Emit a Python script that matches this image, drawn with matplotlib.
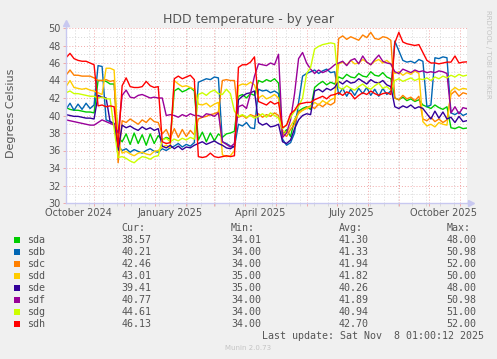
# plot.py
# Munin style "HDD temperature - by year" chart

# ----------------------------------------------------------------------------------------------------------------------
#  IMPORT
# ----------------------------------------------------------------------------------------------------------------------
import matplotlib
matplotlib.use('Agg')
import matplotlib.pyplot as plt
import matplotlib.dates as mdates
from matplotlib.ticker import MultipleLocator, FixedLocator, NullFormatter
from matplotlib.patches import Rectangle
import numpy as np

# ----------------------------------------------------------------------------------------------------------------------
#  DATA
# ----------------------------------------------------------------------------------------------------------------------
start_date = np.datetime64('2024-10-04')
end_date   = np.datetime64('2025-11-08')
sample_day = np.arange(0, 401, 4)          # one reading every 4 days

disk_names  = ['sda', 'sdb', 'sdc', 'sdd', 'sde', 'sdf', 'sdg', 'sdh']
disk_colors = ['#00CC00', '#0066B3', '#FF8000', '#FFCC00', '#330099', '#990099', '#CCFF00', '#FF0000']

sda = [40.9, 40.7, 40.6, 40.6, 40.5, 40.4, 40.4, 40.3, 44.0, 44.0,
       43.9, 43.6, 43.6, 37.5, 37.0, 37.9, 36.7, 38.0, 36.8, 37.8,
       36.6, 37.9, 36.8, 37.7, 37.2, 37.5, 37.3, 42.8, 43.1, 42.7,
       42.9, 43.2, 42.8, 37.2, 38.1, 37.0, 38.0, 37.1, 37.9, 37.5,
       37.9, 38.0, 38.2, 42.2, 42.4, 42.0, 42.5, 42.3, 44.0, 43.8,
       44.1, 43.9, 44.2, 43.7, 37.8, 38.4, 37.6, 39.5, 40.5, 40.8,
       41.0, 40.7, 43.2, 43.6, 43.9, 43.5, 43.8, 43.6, 44.4, 44.2,
       44.7, 44.4, 44.3, 44.8, 44.5, 44.4, 45.0, 44.6, 44.5, 44.9,
       44.4, 44.2, 42.0, 41.8, 42.1, 41.7, 41.9, 41.6, 41.8, 41.2,
       41.0, 40.8, 41.2, 40.9, 40.7, 41.0, 38.6, 38.5, 38.7, 38.5, 38.57]

sdb = [40.7, 41.4, 40.6, 41.3, 40.7, 41.4, 40.8, 41.2, 45.7, 45.6,
       39.5, 39.3, 39.0, 36.5, 36.0, 36.2, 35.8, 36.1, 35.9, 35.7,
       36.0, 36.2, 35.9, 35.8, 36.2, 36.0, 36.3, 36.5, 36.8, 36.4,
       36.7, 36.5, 36.9, 43.8, 44.0, 44.2, 44.1, 44.4, 44.3, 37.0,
       36.8, 36.5, 36.4, 39.0, 38.8, 39.2, 38.6, 38.5, 43.0, 42.8,
       42.9, 42.6, 42.8, 42.5, 37.3, 36.6, 36.9, 38.0, 41.5, 44.5,
       44.8, 45.0, 45.2, 44.8, 45.1, 45.3, 44.9, 45.0, 42.4, 43.1,
       42.2, 43.0, 42.3, 43.1, 42.5, 43.2, 42.3, 43.0, 42.2, 43.1,
       42.4, 42.8, 48.5, 47.4, 46.3, 46.1, 46.2, 46.0, 46.4, 46.2,
       41.0, 41.2, 46.6, 46.5, 46.7, 46.6, 40.3, 40.1, 40.4, 40.0, 40.21]

sdc = [44.6, 45.2, 44.6, 44.6, 44.5, 44.5, 44.5, 44.3, 44.0, 44.0,
       44.1, 43.9, 44.0, 34.6, 39.4, 39.2, 39.6, 39.3, 39.0, 39.5,
       39.2, 39.7, 39.3, 39.2, 37.9, 38.4, 37.4, 38.5, 37.5, 38.4,
       37.6, 38.3, 37.8, 39.6, 39.8, 39.9, 40.1, 40.2, 40.4, 44.0,
       44.1, 44.0, 44.0, 39.8, 40.0, 39.7, 40.1, 39.9, 40.2, 39.8,
       40.1, 39.9, 40.3, 40.0, 38.0, 37.6, 38.4, 39.0, 40.4, 40.6,
       40.9, 41.1, 40.8, 41.3, 41.0, 41.4, 41.2, 41.5, 48.8, 49.1,
       48.7, 49.0, 48.8, 48.6, 49.2, 48.9, 49.5, 48.8, 48.7, 49.0,
       48.9, 48.6, 42.0, 41.8, 42.3, 41.9, 42.1, 41.7, 42.2, 39.6,
       39.4, 39.8, 39.3, 39.6, 39.2, 39.5, 42.4, 42.8, 42.2, 42.6, 42.46]

sdd = [43.3, 44.0, 43.2, 43.1, 43.0, 43.1, 42.9, 42.8, 42.6, 42.4,
       45.4, 45.4, 45.2, 37.0, 35.7, 35.9, 35.6, 35.4, 35.7, 35.8,
       35.6, 35.5, 35.9, 36.0, 36.4, 36.6, 36.3, 44.0, 43.6, 43.3,
       43.4, 43.2, 43.0, 41.3, 41.2, 41.4, 41.0, 41.3, 41.5, 35.5,
       35.3, 35.4, 36.0, 43.4, 43.6, 43.5, 43.8, 43.5, 42.0, 42.3,
       41.9, 42.1, 42.4, 42.0, 38.3, 38.0, 38.8, 39.5, 40.2, 40.6,
       40.8, 41.0, 41.5, 41.2, 41.7, 41.4, 41.8, 42.0, 45.9, 46.1,
       45.8, 46.3, 45.9, 46.0, 46.4, 46.1, 45.8, 46.2, 46.4, 46.0,
       46.3, 45.9, 44.8, 45.0, 44.6, 44.9, 44.7, 45.1, 44.8, 39.3,
       38.8, 39.0, 38.7, 39.2, 39.0, 38.9, 42.8, 43.2, 42.9, 43.1, 43.01]

sde = [40.1, 40.0, 39.9, 39.9, 39.8, 39.7, 39.7, 39.6, 42.3, 42.1,
       42.0, 39.3, 39.1, 36.0, 38.9, 38.6, 38.8, 38.5, 38.3, 38.7,
       38.4, 38.6, 38.3, 38.5, 36.5, 36.3, 36.6, 36.2, 36.5, 36.1,
       36.4, 36.3, 36.6, 36.8, 37.0, 36.7, 36.9, 37.1, 36.8, 36.6,
       36.3, 36.2, 36.5, 41.8, 42.2, 42.5, 42.6, 42.8, 39.2, 38.9,
       39.1, 38.7, 38.8, 39.0, 37.0, 36.8, 37.2, 38.5, 39.5, 40.0,
       40.2, 40.1, 42.8, 43.0, 42.7, 43.1, 42.9, 43.2, 43.9, 43.6,
       44.0, 43.7, 43.8, 44.2, 43.9, 43.6, 44.1, 43.8, 43.7, 44.0,
       43.5, 43.3, 41.0, 40.8, 41.1, 40.9, 41.2, 40.8, 41.0, 40.8,
       40.2, 39.6, 40.5, 39.7, 40.4, 39.6, 39.8, 39.2, 39.9, 39.3, 39.41]

sdf = [39.5, 39.4, 39.3, 39.2, 39.1, 39.0, 38.9, 38.9, 39.2, 39.5,
       39.3, 39.1, 38.9, 38.0, 42.3, 42.9, 42.1, 42.0, 42.3, 42.4,
       42.2, 42.0, 42.1, 42.0, 42.0, 40.0, 40.1, 40.0, 39.8, 40.1,
       39.9, 40.2, 40.0, 40.0, 39.8, 40.2, 40.1, 39.9, 40.3, 37.0,
       36.7, 36.4, 36.8, 41.0, 41.2, 40.8, 42.5, 44.5, 45.9, 45.8,
       45.7, 46.0, 45.8, 47.0, 37.5, 38.0, 39.5, 42.5, 46.5, 47.2,
       46.0, 45.3, 44.8, 45.2, 44.9, 45.1, 45.4, 45.8, 46.0, 46.2,
       45.7, 46.3, 46.5, 45.9, 46.8, 46.1, 45.8, 46.4, 46.9, 46.2,
       46.0, 45.9, 45.0, 44.8, 45.3, 45.1, 44.9, 45.2, 45.0, 45.1,
       44.9, 45.0, 44.9, 45.1, 45.0, 44.8, 40.3, 41.0, 40.2, 40.9, 40.77]

sdg = [42.6, 42.8, 42.5, 42.5, 42.4, 42.3, 42.2, 42.2, 42.0, 42.1,
       41.9, 41.9, 38.5, 35.2, 35.3, 35.1, 34.8, 34.6, 35.0, 35.3,
       35.2, 35.0, 35.3, 35.4, 37.2, 37.4, 37.0, 37.3, 37.1, 37.4,
       37.2, 37.5, 37.3, 42.4, 42.6, 42.3, 42.7, 42.9, 42.5, 42.4,
       43.0, 42.5, 40.5, 39.9, 40.1, 39.8, 40.0, 39.7, 39.9, 40.2,
       39.8, 40.3, 40.0, 39.7, 38.5, 38.9, 39.8, 40.5, 41.0, 42.0,
       44.8, 45.5, 47.6, 47.9, 48.1, 48.2, 48.3, 48.2, 43.2, 43.0,
       43.4, 43.1, 42.9, 43.3, 43.6, 43.2, 43.0, 43.4, 43.7, 43.1,
       43.3, 42.9, 44.0, 44.2, 43.9, 44.1, 44.3, 44.0, 44.2, 44.1,
       44.3, 44.0, 44.4, 44.2, 44.5, 44.3, 44.6, 44.4, 44.7, 44.5, 44.61]

sdh = [46.6, 47.1, 46.5, 46.3, 46.2, 46.2, 46.0, 45.8, 41.1, 41.2,
       41.0, 41.1, 41.0, 36.4, 43.4, 44.3, 43.3, 43.2, 43.2, 43.3,
       43.9, 43.4, 43.2, 43.3, 37.0, 36.8, 36.9, 44.2, 44.5, 44.2,
       44.4, 44.6, 44.1, 35.3, 35.2, 35.3, 35.7, 35.3, 35.2, 35.3,
       35.4, 35.3, 35.4, 45.5, 45.8, 45.8, 46.1, 46.7, 41.6, 41.4,
       41.2, 41.6, 41.3, 41.5, 38.6, 38.9, 40.2, 40.6, 41.3, 41.4,
       41.5, 41.5, 41.8, 42.0, 42.2, 41.9, 42.3, 42.4, 42.6, 42.3,
       42.7, 42.5, 41.9, 42.3, 42.6, 42.4, 42.8, 42.5, 42.3, 42.5,
       42.6, 42.4, 48.3, 49.5, 48.4, 48.2, 48.1, 48.0, 48.1, 47.2,
       46.3, 46.0, 46.0, 45.9, 46.0, 46.1, 46.1, 46.8, 46.0, 46.1, 46.13]

series = [sda, sdb, sdc, sdd, sde, sdf, sdg, sdh]

cur_vals = ['38.57', '40.21', '42.46', '43.01', '39.41', '40.77', '44.61', '46.13']
min_vals = ['34.01', '34.00', '34.00', '35.00', '35.00', '34.00', '34.00', '34.00']
avg_vals = ['41.30', '41.33', '41.94', '41.82', '40.26', '41.89', '40.94', '42.70']
max_vals = ['48.00', '50.98', '52.00', '50.00', '48.00', '50.98', '51.00', '52.00']

label_months = ['2024-10-16', '2025-01-16', '2025-04-16', '2025-07-16', '2025-10-16']
label_texts  = ['October 2024', 'January 2025', 'April 2025', 'July 2025', 'October 2025']

# ----------------------------------------------------------------------------------------------------------------------
#  PLOT
# ----------------------------------------------------------------------------------------------------------------------
W, H = 497, 359
text_color  = '#555555'
axis_color  = '#C8C8F0'
major_color = '#F2A8A8'
minor_color = '#D8D8D8'

fig = plt.figure(figsize=(W / 100, H / 100), dpi=100, facecolor='#F0F0F0')
ax  = fig.add_axes([66 / W, 1 - 203 / H, 401 / W, 175 / H])
ax.set_facecolor('white')

dates = start_date + sample_day.astype('timedelta64[D]')
for name, color, values in zip(disk_names, disk_colors, series):
    ax.plot(dates, values, color=color, linewidth=1.0, label=name)

ax.set_xlim(start_date, end_date)
ax.set_ylim(30, 50)

# grid: red dotted majors, grey dotted minors
biweekly = np.arange(np.datetime64('2024-10-13'), end_date, np.timedelta64(14, 'D'))
ax.xaxis.set_major_locator(mdates.MonthLocator())
ax.xaxis.set_minor_locator(FixedLocator(mdates.date2num(biweekly)))
ax.xaxis.set_major_formatter(NullFormatter())
ax.yaxis.set_major_locator(MultipleLocator(2))
ax.yaxis.set_minor_locator(MultipleLocator(1))
ax.grid(which='major', color=major_color, linestyle=(0, (1, 2)), linewidth=0.7)
ax.grid(which='minor', color=minor_color, linestyle=(0, (1, 2)), linewidth=0.7)
ax.set_axisbelow(True)

ax.tick_params(axis='both', which='major', length=2, width=0.7, color=major_color)
ax.tick_params(axis='both', which='minor', length=2, width=0.7, color=minor_color)
ax.tick_params(axis='y', which='minor', length=0)
ax.tick_params(axis='y', labelsize=7, labelcolor=text_color, pad=2)

for side in ['top', 'right']:
    ax.spines[side].set_visible(False)
for side in ['left', 'bottom']:
    ax.spines[side].set_color(axis_color)
    ax.spines[side].set_linewidth(1.0)

# axis arrows
ax.plot([0, 0], [1, 1 + 5 / 175], color=axis_color, lw=1.0, transform=ax.transAxes, clip_on=False)
ax.plot([0], [1 + 5 / 175], marker='^', ms=4, color=axis_color, transform=ax.transAxes, clip_on=False)
ax.plot([1, 1 + 4 / 401], [0, 0], color=axis_color, lw=1.0, transform=ax.transAxes, clip_on=False)
ax.plot([1 + 4 / 401], [0], marker='>', ms=4, color=axis_color, transform=ax.transAxes, clip_on=False)

# month labels centred in the middle of the month
for day, txt in zip(label_months, label_texts):
    ax.annotate(txt, xy=(np.datetime64(day), 0), xycoords=('data', 'axes fraction'),
                xytext=(0, -3.5), textcoords='offset points', ha='center', va='top',
                fontsize=7, color=text_color)

# title and axis label
fig.text(249 / W, 1 - 20 / H, 'HDD temperature - by year', ha='center', va='center',
         fontsize=9, color=text_color)
fig.text(11 / W, 1 - 113 / H, 'Degrees Celsius', ha='center', va='center', rotation=90,
         fontsize=8, color=text_color)
fig.text(488 / W, 1 - 54 / H, 'RRDTOOL / TOBI OETIKER', ha='center', va='center', rotation=270,
         fontsize=5, color='#C4C4C4')

# legend table
mono = 'DejaVu Sans Mono'
fs   = 7.2
fig.text(121.7 / W, 1 - 228 / H, 'Cur:', ha='left', va='center', family=mono, fontsize=fs, color=text_color)
fig.text(231 / W, 1 - 228 / H, 'Min:', ha='left', va='center', family=mono, fontsize=fs, color=text_color)
fig.text(339 / W, 1 - 228 / H, 'Avg:', ha='left', va='center', family=mono, fontsize=fs, color=text_color)
fig.text(446.7 / W, 1 - 228 / H, 'Max:', ha='left', va='center', family=mono, fontsize=fs, color=text_color)

for i, name in enumerate(disk_names):
    y = 240 + 12 * i
    fig.patches.append(Rectangle((14 / W, 1 - (y + 3) / H), 6 / W, 6 / H, transform=fig.transFigure,
                                 facecolor=disk_colors[i], edgecolor='none'))
    fig.text(26.7 / W, 1 - y / H, name, ha='left', va='center', family=mono, fontsize=fs, color=text_color)
    fig.text(121.7 / W, 1 - y / H, cur_vals[i], ha='left', va='center', family=mono, fontsize=fs, color=text_color)
    fig.text(231 / W, 1 - y / H, min_vals[i], ha='left', va='center', family=mono, fontsize=fs, color=text_color)
    fig.text(339 / W, 1 - y / H, avg_vals[i], ha='left', va='center', family=mono, fontsize=fs, color=text_color)
    fig.text(446.7 / W, 1 - y / H, max_vals[i], ha='left', va='center', family=mono, fontsize=fs, color=text_color)

fig.text(261.7 / W, 1 - 336 / H, 'Last update: Sat Nov  8 01:00:12 2025', ha='left', va='center',
         family=mono, fontsize=fs, color=text_color)
fig.text(248 / W, 1 - 348 / H, 'Munin 2.0.73', ha='center', va='center', fontsize=5, color='#C4C4C4')

fig.savefig('out.png', dpi=100, facecolor=fig.get_facecolor())
